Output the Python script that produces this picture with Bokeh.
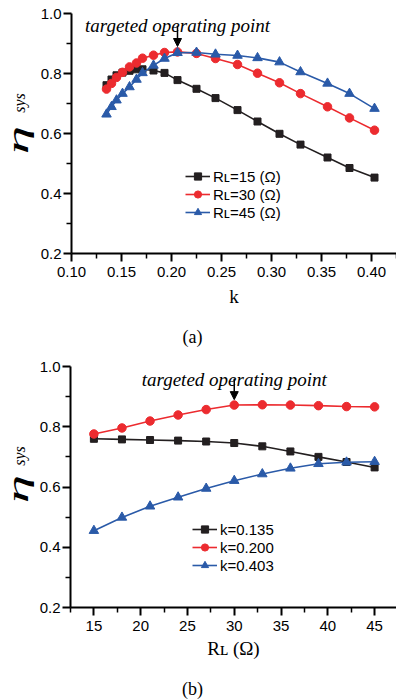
from bokeh.plotting import figure
from bokeh.layouts import column, row
from bokeh.models import (FixedTicker, NumeralTickFormatter, Legend, LegendItem,
                          Arrow, NormalHead, Range1d, Div)
from bokeh.core.properties import value
from bokeh.embed import file_html
from bokeh.resources import INLINE

# ---------------- data: panel (a) ----------------
k_vals = [0.135, 0.140, 0.145, 0.151, 0.158, 0.165, 0.171, 0.182, 0.193, 0.206,
          0.225, 0.244, 0.266, 0.286, 0.308, 0.329, 0.356, 0.378, 0.403]
eta_RL15 = [0.761, 0.780, 0.794, 0.803, 0.809, 0.814, 0.814, 0.810, 0.802, 0.778,
            0.749, 0.718, 0.678, 0.640, 0.599, 0.563, 0.520, 0.485, 0.453]
eta_RL30 = [0.748, 0.767, 0.787, 0.804, 0.822, 0.835, 0.851, 0.861, 0.870, 0.872,
            0.867, 0.850, 0.830, 0.801, 0.769, 0.733, 0.689, 0.652, 0.611]
eta_RL45 = [0.664, 0.689, 0.711, 0.733, 0.755, 0.780, 0.802, 0.827, 0.850, 0.869,
            0.870, 0.864, 0.860, 0.852, 0.838, 0.805, 0.767, 0.733, 0.683]
labels_a = ["R\u029f=15 (\u03a9)", "R\u029f=30 (\u03a9)", "R\u029f=45 (\u03a9)"]
target_a = 9  # k index of targeted operating point (RL=30)

# ---------------- data: panel (b) ----------------
RL_vals = [15, 18, 21, 24, 27, 30, 33, 36, 39, 42, 45]
eta_k0135 = [0.760, 0.758, 0.756, 0.754, 0.751, 0.746, 0.735, 0.718, 0.700, 0.683, 0.665]
eta_k0200 = [0.776, 0.796, 0.819, 0.839, 0.857, 0.872, 0.873, 0.872, 0.870, 0.867, 0.866]
eta_k0403 = [0.455, 0.499, 0.536, 0.566, 0.595, 0.621, 0.643, 0.662, 0.677, 0.682, 0.684]
labels_b = ["k=0.135", "k=0.200", "k=0.403"]
target_b = 5  # RL index of targeted operating point (k=0.200)

# ---------------- ticks ----------------
y_ticks = [0.2, 0.4, 0.6, 0.8, 1.0]
y_minor = [0.3, 0.5, 0.7, 0.9]
xa_ticks = [0.10, 0.15, 0.20, 0.25, 0.30, 0.35, 0.40]
xa_minor = [0.125, 0.175, 0.225, 0.275, 0.325, 0.375, 0.425]
xb_ticks = [15, 20, 25, 30, 35, 40, 45]
xb_minor = [12.5, 17.5, 22.5, 27.5, 32.5, 37.5, 42.5, 47.5]

BLACK = "#231f20"
RED = "#ec2b2f"
BLUE = "#2a5aa8"
SANS = "Liberation Sans"
SERIF = "Liberation Serif"


def bare_fig(w, h, xr, yr):
    f = figure(width=w, height=h, output_backend="svg", toolbar_location=None,
               x_range=xr, y_range=yr, x_axis_type=None, y_axis_type=None,
               min_border_left=0, min_border_right=0, min_border_top=0,
               min_border_bottom=0)
    f.outline_line_color = None
    f.grid.visible = False
    return f


def style_axes(p, xt, xm, xfmt, label_standoff):
    p.xgrid.visible = False
    p.ygrid.visible = False
    p.outline_line_color = None
    p.xaxis.ticker = FixedTicker(ticks=xt, minor_ticks=xm)
    p.yaxis.ticker = FixedTicker(ticks=y_ticks, minor_ticks=y_minor)
    p.xaxis.formatter = NumeralTickFormatter(format=xfmt)
    p.yaxis.formatter = NumeralTickFormatter(format="0.0")
    for ax in (p.xaxis[0], p.yaxis[0]):
        ax.axis_line_width = 2
        ax.axis_line_color = "black"
        ax.major_tick_line_width = 2
        ax.minor_tick_line_width = 1.5
        ax.major_tick_line_color = "black"
        ax.minor_tick_line_color = "black"
        ax.major_tick_in = 0
        ax.major_tick_out = 8
        ax.minor_tick_in = 0
        ax.minor_tick_out = 5
        ax.major_label_text_font = SANS
        ax.major_label_text_font_size = "15px"
        ax.major_label_text_color = "black"
    p.yaxis.major_label_standoff = 2
    p.xaxis.major_label_standoff = 5
    p.xaxis.axis_label_text_font = SERIF
    p.xaxis.axis_label_text_font_style = "normal"
    p.xaxis.axis_label_text_font_size = "19px"
    p.xaxis.axis_label_text_color = "black"
    p.xaxis.axis_label_standoff = label_standoff


def add_series(p, x, ys, labels):
    items = []
    for y, lab, col, mk, sz in zip(ys, labels, (BLACK, RED, BLUE),
                                   ("square", "circle", "triangle"), (7, 8.5, 9.5)):
        r1 = p.line(x, y, line_color=col, line_width=1.6)
        r2 = p.scatter(x, y, marker=mk, size=sz, fill_color=col, line_color=col)
        items.append(LegendItem(label=lab, renderers=[r1, r2]))
    return items


def add_legend(p, items, loc):
    leg = Legend(items=items, location=loc, border_line_color=None,
                 background_fill_alpha=0, padding=0, margin=0, spacing=0,
                 glyph_width=25, glyph_height=18, label_height=18,
                 label_standoff=3, label_text_font=SANS,
                 label_text_font_size="15px", label_text_color="black")
    p.add_layout(leg, "center")


def add_target(p, xt, yt):
    p.text(x=[xt], y=[yt], text=["targeted operating point"], y_offset=-26,
           text_align="center", text_baseline="alphabetic",
           text_font=value(SERIF), text_font_style="italic",
           text_font_size="19px", text_color="black")
    p.add_layout(Arrow(end=NormalHead(size=8, fill_color="black", line_color="black",
                                      line_width=1),
                       x_start=xt, y_start=yt + 0.087, x_end=xt, y_end=yt + 0.018,
                       line_color="black", line_width=1.5))


def caption_fig(h, text, xc, yc):
    f = bare_fig(396, h, Range1d(0, 396), Range1d(0, h))
    f.text(x=[xc], y=[yc], text=[text], text_align="center", text_baseline="middle",
           text_font=value(SERIF), text_font_size="18px", text_color="black")
    return f


def eta_div(h, eta_c, sys_c):
    span = ("position:absolute; left:{x}px; top:{y}px; line-height:{lh}; white-space:nowrap; "
            "font-family:'Liberation Serif'; font-style:italic; color:black; "
            "font-size:{fs}px; transform:translate(-50%,-50%) rotate(-90deg) scaleX({sx});")
    html = ('<div style="position:relative; width:34px; height:%dpx; overflow:visible;">' % h
            + '<span style="' + span.format(x=eta_c[0], y=eta_c[1], lh=0.7, fs=30, sx=1.9)
            + '">\u03b7</span>'
            + '<span style="' + span.format(x=sys_c[0], y=sys_c[1], lh=1, fs=16, sx=1.0)
            + '">sys</span></div>')
    return Div(text=html, width=34, height=h, margin=0)


# ---------------- panel (a) ----------------
pa = figure(width=362, height=315, output_backend="svg", toolbar_location=None,
            x_range=Range1d(0.10, 0.425), y_range=Range1d(0.2, 1.0),
            min_border_left=37, min_border_right=0, min_border_top=13,
            min_border_bottom=62)
style_axes(pa, xa_ticks, xa_minor, "0.00", 6)
pa.xaxis.axis_label = "k"
items_a = add_series(pa, k_vals, [eta_RL15, eta_RL30, eta_RL45], labels_a)
add_legend(pa, items_a, (114, 32))
add_target(pa, k_vals[target_a], eta_RL30[target_a])
da = eta_div(315, (17, 139.5), (20, 103))
ca = caption_fig(37, "(a)", 192, 16)

# ---------------- panel (b) ----------------
pb = figure(width=362, height=317, output_backend="svg", toolbar_location=None,
            x_range=Range1d(12.5, 47.34), y_range=Range1d(0.2, 1.0),
            min_border_left=36, min_border_right=0, min_border_top=14,
            min_border_bottom=62)
style_axes(pb, xb_ticks, xb_minor, "0", 4)
pb.xaxis.axis_label = "R\u029f (\u03a9)"
items_b = add_series(pb, RL_vals, [eta_k0135, eta_k0200, eta_k0403], labels_b)
add_legend(pb, items_b, (122, 33))
add_target(pb, RL_vals[target_b], eta_k0200[target_b])
db = eta_div(317, (17, 136.5), (20, 104))
cb = caption_fig(31, "(b)", 192, 12)

layout = column(row(da, pa, spacing=0), ca, row(db, pb, spacing=0), cb, spacing=0)
open("out.html", "w").write(file_html(layout, INLINE))
